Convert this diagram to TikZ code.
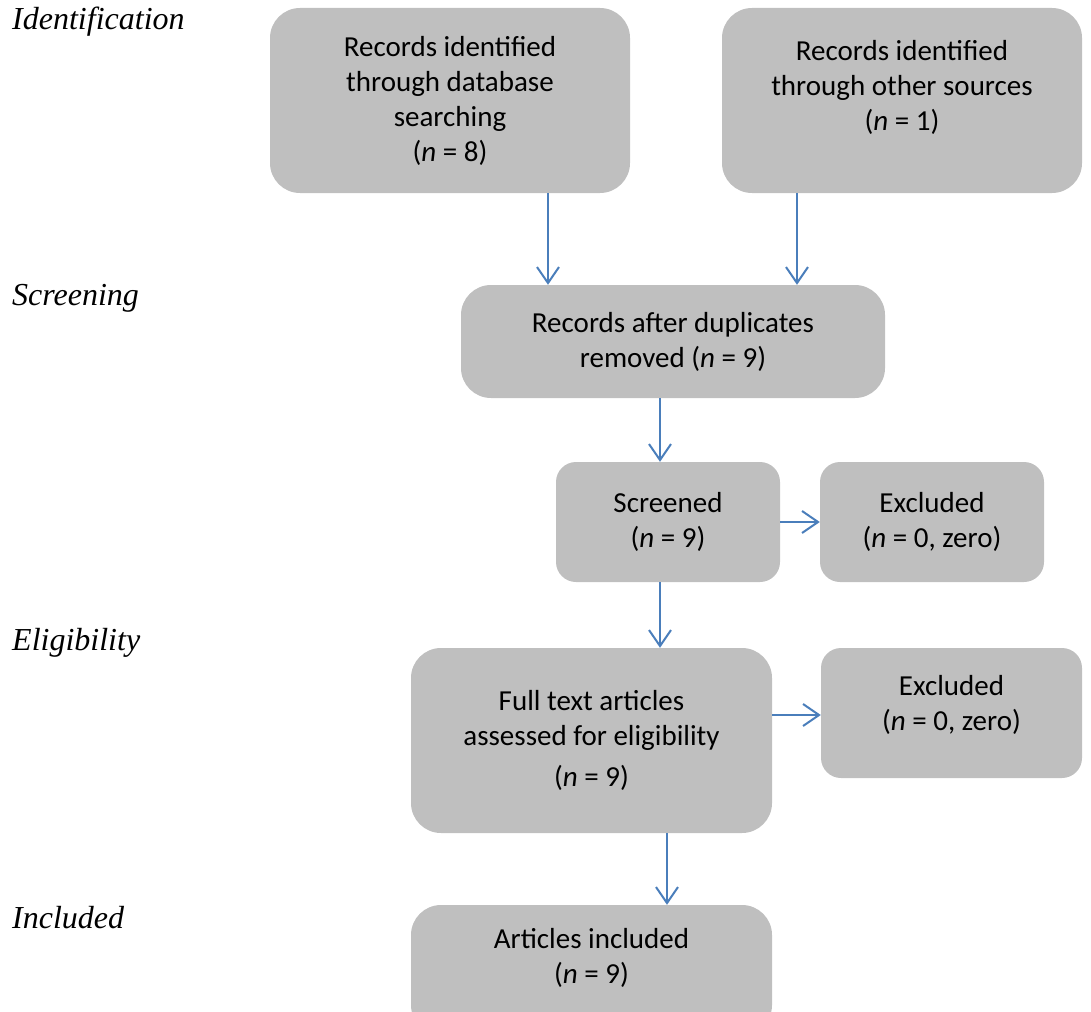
\documentclass[tikz,border=0pt]{standalone}
\usepackage{fontspec}
\setmainfont{Carlito}
\newfontfamily\stagefont{Liberation Serif}
\usetikzlibrary{arrows.meta}
\definecolor{boxgray}{HTML}{BFBFBF}
\definecolor{flowblue}{HTML}{4A7EBB}

\tikzset{
  stagebox/.style={fill=boxgray, rounded corners=30pt, align=center, inner sep=0pt,
    font=\fontsize{29}{35}\selectfont},
  smallbox/.style={stagebox, rounded corners=20pt},
  stagelabel/.style={anchor=west, inner sep=0pt, font=\stagefont\itshape\fontsize{32}{36}\selectfont},
  flow/.style={flowblue, line width=2pt,
    -{Straight Barb[length=16pt,width=22pt,line width=2pt]}},
}

\begin{document}
\begin{tikzpicture}[x=1pt, y=-1pt]
  \useasboundingbox (0,0) rectangle (1091,1011);

  % stages
  \node[stagelabel] (ident) at (12,22) {Identification};
  \node[stagelabel] (screen) at (12,298) {Screening};
  \node[stagelabel] (elig) at (12,643) {Eligibility};
  \node[stagelabel] (incl) at (12,918) {Included};

  % boxes
  \node[stagebox, minimum width=360pt, minimum height=185pt] (db) at (450,100.5)
    {Records identified\\through database\\searching\\(\textit{n} = 8)};
  \node[stagebox, minimum width=360pt, minimum height=185pt] (other) at (902,100.5)
    {Records identified\\through other sources\\(\textit{n} = 1)\\[-5pt]\mbox{}};
  \node[stagebox, minimum width=424pt, minimum height=113pt] (dup) at (673,341.5)
    {Records after duplicates\\removed (\textit{n} = 9)};
  \node[smallbox, minimum width=224pt, minimum height=120pt] (scr) at (668,522)
    {Screened\\(\textit{n} = 9)};
  \node[smallbox, minimum width=224pt, minimum height=120pt] (exa) at (932,522)
    {Excluded\\(\textit{n} = 0, zero)};
  \node[stagebox, minimum width=361pt, minimum height=185pt] (full) at (591.5,740.5)
    {Full text articles\\assessed for eligibility\\[6pt](\textit{n} = 9)};
  \node[smallbox, minimum width=261pt, minimum height=130pt] (exb) at (951.5,713)
    {Excluded\\(\textit{n} = 0, zero)\\[-15pt]\mbox{}};
  \node[stagebox, minimum width=361pt, minimum height=130pt] (inc) at (591.5,970)
    {Articles included\\(\textit{n} = 9)\\[-6pt]\mbox{}};

  % arrows
  \draw[flow] ([xshift=98pt]db.south) -- ([xshift=98pt]db.south |- dup.north);
  \draw[flow] ([xshift=-105pt]other.south) -- ([xshift=-105pt]other.south |- dup.north);
  \draw[flow] ([xshift=-13pt]dup.south) -- ([xshift=-13pt]dup.south |- scr.north);
  \draw[flow] (scr.east) -- (exa.west);
  \draw[flow] ([xshift=-8pt]scr.south) -- ([xshift=-8pt]scr.south |- full.north);
  \draw[flow] ([yshift=25.5pt]full.east) -- ([yshift=25.5pt]full.east -| exb.west);
  \draw[flow] ([xshift=75.5pt]full.south) -- ([xshift=75.5pt]full.south |- inc.north);
\end{tikzpicture}
\end{document}
